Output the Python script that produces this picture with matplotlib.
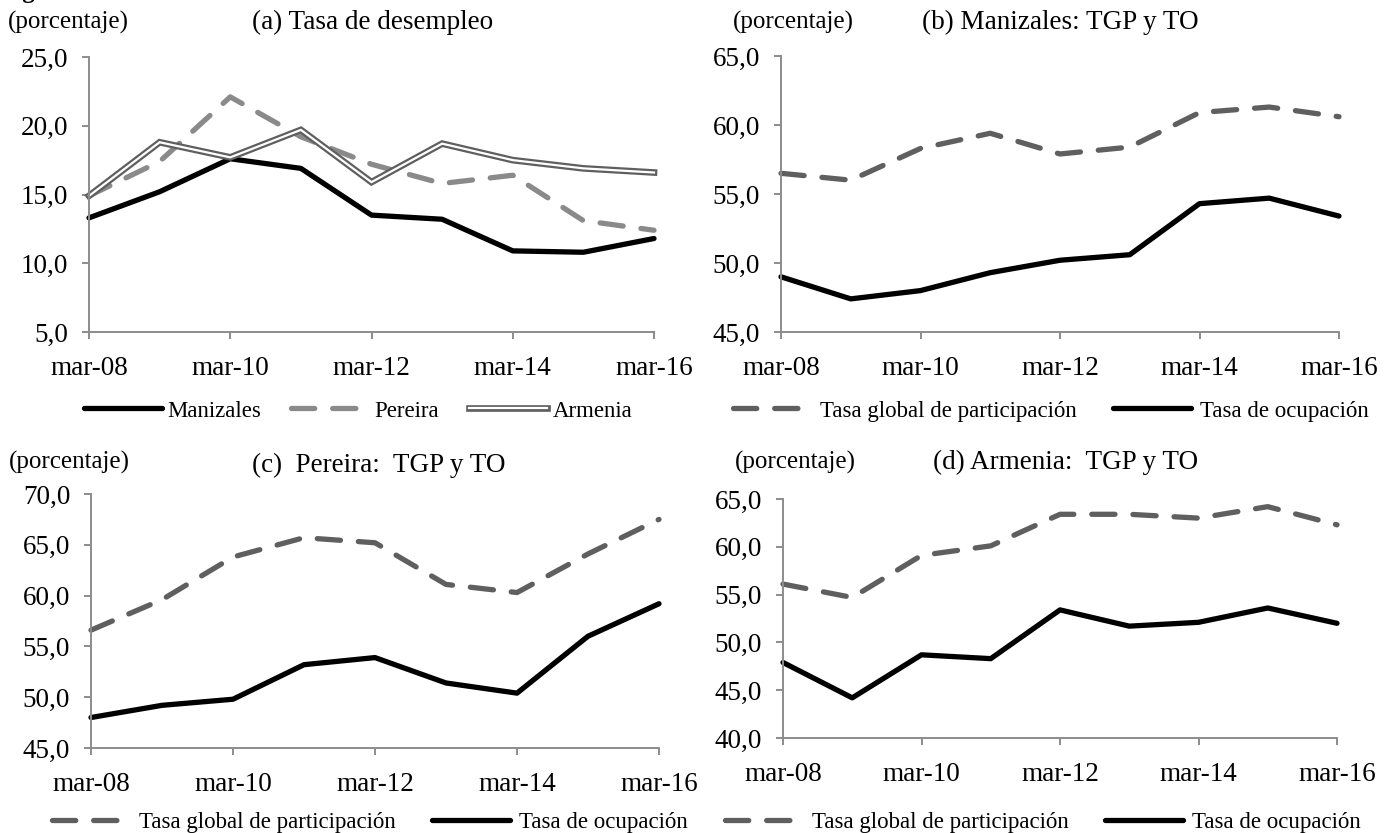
import matplotlib
matplotlib.use("Agg")
import matplotlib.pyplot as plt
import matplotlib.patheffects as pe

plt.rcParams['font.family'] = ['Liberation Serif', 'DejaVu Serif']

# ---------------- data ----------------
years = [2008, 2009, 2010, 2011, 2012, 2013, 2014, 2015, 2016]
xtick_pos = [2008, 2010, 2012, 2014, 2016]
xtick_labels = ['mar-08', 'mar-10', 'mar-12', 'mar-14', 'mar-16']

# (a) unemployment rate
desempleo_manizales = [13.3, 15.2, 17.6, 16.9, 13.5, 13.2, 10.9, 10.8, 11.8]
desempleo_pereira = [14.9, 17.4, 22.1, 19.2, 17.2, 15.8, 16.4, 13.1, 12.4]
desempleo_armenia = [14.9, 18.8, 17.7, 19.7, 15.9, 18.7, 17.5, 16.9, 16.6]

# (b) Manizales
manizales_tgp = [56.5, 56.0, 58.3, 59.4, 57.9, 58.4, 60.9, 61.3, 60.6]
manizales_to = [49.0, 47.4, 48.0, 49.3, 50.2, 50.6, 54.3, 54.7, 53.4]

# (c) Pereira
pereira_tgp = [56.6, 59.6, 63.8, 65.7, 65.2, 61.1, 60.3, 64.1, 67.5]
pereira_to = [48.0, 49.2, 49.8, 53.2, 53.9, 51.4, 50.4, 56.0, 59.2]

# (d) Armenia
armenia_tgp = [56.1, 54.7, 59.1, 60.1, 63.4, 63.4, 63.0, 64.2, 62.3]
armenia_to = [47.9, 44.2, 48.7, 48.3, 53.4, 51.7, 52.1, 53.6, 52.0]

yticks_a = [5, 10, 15, 20, 25]
yticks_b = [45, 50, 55, 60, 65]
yticks_c = [45, 50, 55, 60, 65, 70]
yticks_d = [40, 45, 50, 55, 60, 65]

ylabels_a = ['5,0', '10,0', '15,0', '20,0', '25,0']
ylabels_b = ['45,0', '50,0', '55,0', '60,0', '65,0']
ylabels_c = ['45,0', '50,0', '55,0', '60,0', '65,0', '70,0']
ylabels_d = ['40,0', '45,0', '50,0', '55,0', '60,0', '65,0']

# ---------------- styles ----------------
W, H = 1392, 833
TICK_FS = 19.5
TITLE_FS = 19.5
PCT_FS = 18
LFS = 16.5
SPINE = '#8c8c8c'
BLACK_LW = 3.8
DASH_LW = 3.8
DASH = (0, (4.4, 3.4))

fig = plt.figure(figsize=(W / 100, H / 100), dpi=100)


def px_axes(left, right, top, bottom):
    return fig.add_axes([left / W, 1 - bottom / H, (right - left) / W, (bottom - top) / H])


def style_axes(ax, yticks, ylabels):
    ax.set_xlim(years[0], years[-1])
    ax.set_ylim(yticks[0], yticks[-1])
    ax.set_xticks(xtick_pos)
    ax.set_xticklabels(xtick_labels, fontsize=TICK_FS)
    ax.set_yticks(yticks)
    ax.set_yticklabels(ylabels, fontsize=TICK_FS)
    for s in ['top', 'right']:
        ax.spines[s].set_visible(False)
    for s in ['left', 'bottom']:
        ax.spines[s].set_color(SPINE)
        ax.spines[s].set_linewidth(1.4)
    ax.tick_params(axis='x', direction='out', length=5, width=1.4, color=SPINE, pad=12)
    ax.tick_params(axis='y', direction='out', length=5, width=1.4, color=SPINE, pad=10)
    ax.set_facecolor('none')


def dashed(ax, y, color):
    return ax.plot(years, y, color=color, lw=DASH_LW, linestyle=DASH,
                   dash_capstyle='round', solid_joinstyle='round', clip_on=False)[0]


def solid(ax, y):
    return ax.plot(years, y, color='black', lw=BLACK_LW, solid_capstyle='round',
                   solid_joinstyle='round', clip_on=False)[0]


# ---------------- (a) ----------------
axa = px_axes(89, 654, 57, 332)
style_axes(axa, yticks_a, ylabels_a)
la_m = solid(axa, desempleo_manizales)
la_p = dashed(axa, desempleo_pereira, '#8a8a8a')
la_a = axa.plot(years, desempleo_armenia, color='white', lw=1.6,
                solid_joinstyle='miter', clip_on=False,
                path_effects=[pe.Stroke(linewidth=4.8, foreground='#5f5f5f'), pe.Normal()])[0]

fig.legend([la_m, la_p, la_a], ['Manizales', 'Pereira', 'Armenia'],
           loc='center', bbox_to_anchor=(358 / W, 1 - 411 / H), ncol=3, frameon=False,
           fontsize=LFS, handlelength=3.4, handletextpad=0.25, columnspacing=1.3)

fig.text(8 / W, 1 - 22 / H, '(porcentaje)', fontsize=PCT_FS, va='center', ha='left')
fig.text(252 / W, 1 - 22 / H, '(a) Tasa de desempleo', fontsize=TITLE_FS, va='center', ha='left')

# ---------------- (b) ----------------
axb = px_axes(781, 1339, 56, 332)
style_axes(axb, yticks_b, ylabels_b)
lb_t = dashed(axb, manizales_tgp, '#5f5f5f')
lb_o = solid(axb, manizales_to)
fig.legend([lb_t, lb_o], ['Tasa global de participación', 'Tasa de ocupación'],
           loc='center', bbox_to_anchor=(1051 / W, 1 - 411 / H), ncol=2, frameon=False,
           fontsize=LFS, handlelength=3.4, handletextpad=0.4, columnspacing=1.6)
fig.text(733 / W, 1 - 22 / H, '(porcentaje)', fontsize=PCT_FS, va='center', ha='left')
fig.text(922 / W, 1 - 22 / H, '(b) Manizales: TGP y TO', fontsize=TITLE_FS, va='center', ha='left')

# ---------------- (c) ----------------
axc = px_axes(91, 659, 494, 748)
style_axes(axc, yticks_c, ylabels_c)
lc_t = dashed(axc, pereira_tgp, '#5f5f5f')
lc_o = solid(axc, pereira_to)
fig.legend([lc_t, lc_o], ['Tasa global de participación', 'Tasa de ocupación'],
           loc='center', bbox_to_anchor=(370 / W, 1 - 822 / H), ncol=2, frameon=False,
           fontsize=LFS, handlelength=3.4, handletextpad=0.4, columnspacing=1.6)
fig.text(9 / W, 1 - 462 / H, '(porcentaje)', fontsize=PCT_FS, va='center', ha='left')
fig.text(252 / W, 1 - 465 / H, '(c)  Pereira:  TGP y TO', fontsize=TITLE_FS, va='center', ha='left')

# ---------------- (d) ----------------
axd = px_axes(783, 1337, 499, 738)
style_axes(axd, yticks_d, ylabels_d)
ld_t = dashed(axd, armenia_tgp, '#5f5f5f')
ld_o = solid(axd, armenia_to)
fig.legend([ld_t, ld_o], ['Tasa global de participación', 'Tasa de ocupación'],
           loc='center', bbox_to_anchor=(1043 / W, 1 - 822 / H), ncol=2, frameon=False,
           fontsize=LFS, handlelength=3.4, handletextpad=0.4, columnspacing=1.6)
fig.text(735 / W, 1 - 462 / H, '(porcentaje)', fontsize=PCT_FS, va='center', ha='left')
fig.text(933 / W, 1 - 462 / H, '(d) Armenia:  TGP y TO', fontsize=TITLE_FS, va='center', ha='left')

# figure heading, cut off at the top edge as in the source image
fig.text(0.0, 1 + 2 / H, 'Figura 1', fontsize=PCT_FS, fontweight='bold', va='baseline', ha='left')

fig.savefig('out.png', dpi=100, facecolor='white')
